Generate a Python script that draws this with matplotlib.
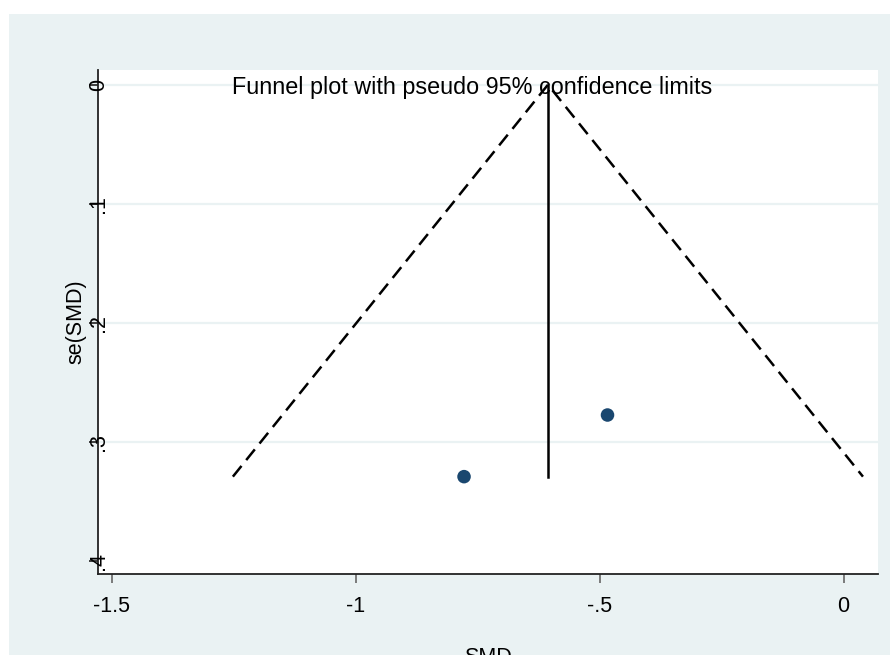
"""
Funnel plot with pseudo 95% confidence limits for the SMD of two studies.
"""

import matplotlib
matplotlib.use('Agg')
import matplotlib.pyplot as plt
import numpy as np
from matplotlib.patches import Rectangle
from matplotlib.transforms import blended_transform_factory

# Study estimates
# ----------------------------------------------------------------------------

smd = np.array([-0.484, -0.778])
se_smd = np.array([0.2776, 0.3294])

xticks = [-1.5, -1, -0.5, 0]
xticklabels = ['-1.5', '-1', '-.5', '0']
yticks = [0, 0.1, 0.2, 0.3, 0.4]
yticklabels = ['0', '.1', '.2', '.3', '.4']

# fixed-effect pooled estimate and pseudo 95% limits
w = 1 / se_smd**2
pooled = np.sum(w * smd) / np.sum(w)
se_max = se_smd.max()
funnel_se = [se_max, 0, se_max]
funnel_x = [pooled - 1.96 * se_max, pooled, pooled + 1.96 * se_max]

# Plot
# ----------------------------------------------------------------------------

plt.rcParams['font.family'] = ['Liberation Sans', 'DejaVu Sans']

fig = plt.figure(figsize=(8.9, 6.55), dpi=100, facecolor='white')
fig.patches.append(Rectangle((9 / 890, 0), 1, 1 - 14 / 655, transform=fig.transFigure,
                             facecolor='#eaf2f3', edgecolor='none', zorder=-10))

ax = fig.add_axes([0.1098, 0.1237, 0.8767, 0.7694])
ax.set_facecolor('white')

for t in yticks[:-1]:
    ax.axhline(t, color='#eaf2f3', lw=1.6, zorder=1)

ax.plot(funnel_x, funnel_se, color='black', lw=1.8, dashes=(5.5, 3), zorder=2)
ax.plot([pooled, pooled], [0, se_max], color='black', lw=1.8, zorder=2)
ax.scatter(smd, se_smd, s=95, color='#1a476f', edgecolors='none', zorder=3)

ax.set_xlim(-1.5287, 0.0703)
ax.set_ylim(0.4112, -0.01235)

ax.spines['top'].set_visible(False)
ax.spines['right'].set_visible(False)
for s in ('left', 'bottom'):
    ax.spines[s].set_linewidth(1.3)
    ax.spines[s].set_color('#222222')

ax.set_xticks(xticks)
ax.set_xticklabels(xticklabels, fontsize=15.5)
ax.tick_params(axis='x', length=6.8, width=1.2, color='#666666', pad=9)

ax.set_yticks(yticks)
ax.set_yticklabels([])
ax.tick_params(axis='y', length=6.8, width=1.2, color='#222222')
trans = blended_transform_factory(ax.transAxes, ax.transData)
for t, lab in zip(yticks, yticklabels):
    ax.text(0.001, t, lab, transform=trans, rotation=90, ha='center', va='center',
            fontsize=15.5, zorder=4)

ax.set_xlabel('SMD', fontsize=15.5, labelpad=22)
ax.set_ylabel('se(SMD)', fontsize=15.5, va='center')
ax.yaxis.set_label_coords(-0.0285, 0.5)

ax.text(0.4797, 0.965, 'Funnel plot with pseudo 95% confidence limits', transform=ax.transAxes,
        ha='center', va='center', fontsize=16.8, zorder=4)

fig.savefig('out.png', dpi=100, facecolor=fig.get_facecolor())
